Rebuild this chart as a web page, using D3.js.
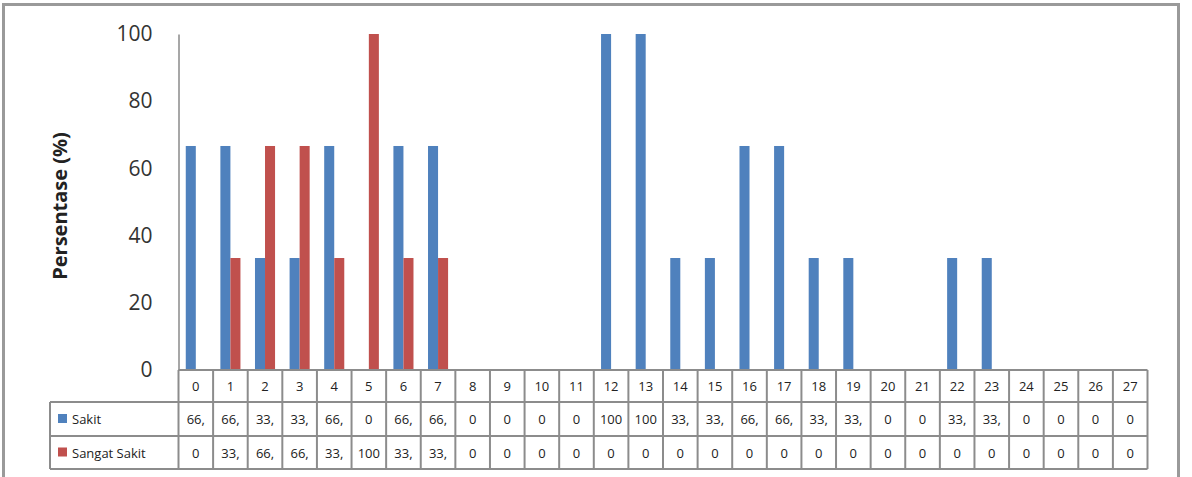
<!DOCTYPE html>
<html lang="en">
<head>
  <meta charset="utf-8">
  <script src="https://cdn.jsdelivr.net/npm/d3@7"></script>
  <style>
    body{margin:0;background:#fff;}
    text{font-family:"Open Sans","Noto Sans",sans-serif;}
  </style>
</head>
<body>
<div id="chart"></div>
<script>
  // data
  var categories=["0","1","2","3","4","5","6","7","8","9","10","11","12","13","14","15","16","17","18","19","20","21","22","23","24","25","26","27"];
  var seriesNames=["Sakit","Sangat Sakit"];
  var sakit=[66.67,66.67,33.33,33.33,66.67,0,66.67,66.67,0,0,0,0,100,100,33.33,33.33,66.67,66.67,33.33,33.33,0,0,33.33,33.33,0,0,0,0];
  var sangatSakit=[0,33.33,66.67,66.67,33.33,100,33.33,33.33,0,0,0,0,0,0,0,0,0,0,0,0,0,0,0,0,0,0,0,0];
  var yTicks=[0,20,40,60,80,100];
  var colors=["#4F81BD","#C0504D"];

  var width=1192, height=477;
  var plotLeft=178.5, plotRight=1147.5, plotTop=34, zero=370;
  var rowH=[32,34,33];

  var svg=d3.select("#chart").append("svg")
    .attr("width",width)
    .attr("height",height);

  // outer frame
  svg.append("rect")
    .attr("x",3.5).attr("y",4.5)
    .attr("width",1175).attr("height",480)
    .attr("fill","#fff")
    .attr("stroke","#9a9a9a")
    .attr("stroke-width",3);

  var x=d3.scaleBand().domain(categories).range([plotLeft,plotRight]);
  var bw=x.bandwidth();
  var x1=d3.scaleBand().domain(seriesNames).range([bw*0.21,bw*0.79]);
  var y=d3.scaleLinear().domain([0,100]).range([zero,plotTop]);

  var allSeries=[sakit,sangatSakit];

  // bars
  seriesNames.forEach(function(s,si){
    svg.append("g")
      .selectAll("rect")
      .data(allSeries[si])
      .enter()
      .append("rect")
      .attr("x",function(d,i){return x(categories[i])+x1(s);})
      .attr("y",function(d){return y(d);})
      .attr("width",x1.bandwidth())
      .attr("height",function(d){return zero-y(d);})
      .attr("fill",colors[si]);
  });

  // y axis
  var yAxis=svg.append("g")
    .attr("transform","translate("+plotLeft+",0)")
    .call(d3.axisLeft(y).tickValues(yTicks).tickSize(0).tickPadding(26));
  yAxis.select(".domain").attr("stroke","#8a8a8a").attr("stroke-width",1.5);
  yAxis.selectAll("text")
    .style("font-size","21px")
    .attr("fill","#333");

  svg.append("text")
    .attr("transform","translate(67,"+((plotTop+zero)/2+4)+") rotate(-90)")
    .attr("text-anchor","middle")
    .style("font-size","20px")
    .style("font-weight","bold")
    .attr("fill","#222")
    .text("Persentase (%)");

  // data table
  var tableLeft=50;
  var r0=zero, r1=zero+rowH[0], r2=r1+rowH[1], r3=r2+rowH[2];
  var grid=svg.append("g").attr("stroke","#8c8c8c").attr("stroke-width",2);

  grid.append("line").attr("x1",plotLeft).attr("x2",plotRight).attr("y1",r0).attr("y2",r0);
  [r1,r2,r3].forEach(function(r){
    grid.append("line").attr("x1",tableLeft).attr("x2",plotRight).attr("y1",r).attr("y2",r);
  });
  grid.append("line").attr("x1",tableLeft).attr("x2",tableLeft).attr("y1",r1).attr("y2",r3);
  categories.concat(["end"]).forEach(function(c,i){
    var xx=i<categories.length?x(c):plotRight;
    grid.append("line").attr("x1",xx).attr("x2",xx).attr("y1",r0).attr("y2",r3);
  });

  function cellLabel(v){
    return Number.isInteger(v)?String(v):Math.floor(v)+",";
  }

  svg.append("g").selectAll("text")
    .data(categories).enter().append("text")
    .attr("x",function(d){return x(d)+bw/2;})
    .attr("y",(r0+r1)/2+5)
    .attr("text-anchor","middle")
    .style("font-size","13px")
    .attr("fill","#222")
    .text(function(d){return d;});

  var rowsTop=[r1,r2];
  allSeries.forEach(function(vals,si){
    var ry=(rowsTop[si]+rowsTop[si]+rowH[si+1])/2+5;
    svg.append("g").selectAll("text")
      .data(vals).enter().append("text")
      .attr("x",function(d,i){return x(categories[i])+bw/2;})
      .attr("y",ry)
      .attr("text-anchor","middle")
      .style("font-size","13px")
      .attr("fill","#222")
      .text(cellLabel);

    svg.append("rect")
      .attr("x",tableLeft+8).attr("y",ry-10)
      .attr("width",9).attr("height",9)
      .attr("fill",colors[si]);
    svg.append("text")
      .attr("x",tableLeft+22).attr("y",ry)
      .style("font-size","13px")
      .attr("fill","#222")
      .text(seriesNames[si]);
  });
</script>
</body>
</html>
